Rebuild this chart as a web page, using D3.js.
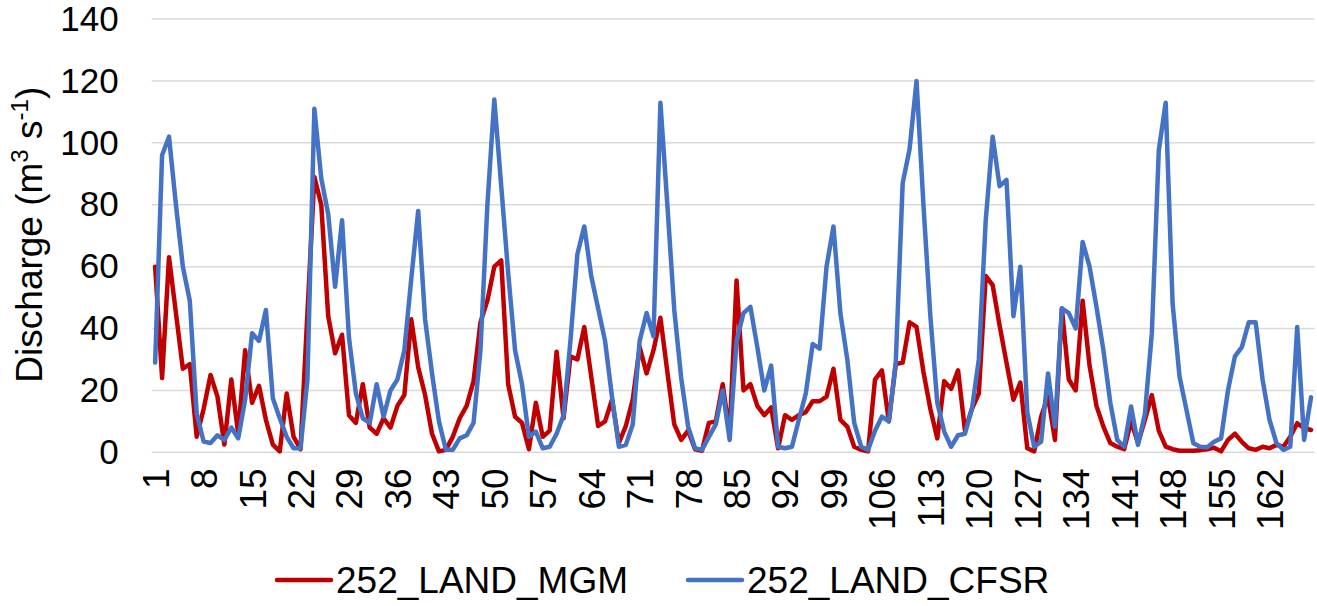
<!DOCTYPE html>
<html>
<head>
<meta charset="utf-8">
<script src="https://cdn.jsdelivr.net/npm/d3@7/dist/d3.min.js"></script>
<style>
  html, body { margin: 0; padding: 0; background: #fff; }
  svg { display: block; font-family: Arial, "Liberation Sans", sans-serif; }
</style>
</head>
<body>
<svg id="chart" width="1317" height="606"></svg>
<script>
// ---- Data ----
const categories = d3.range(1, 169); // 1..168
const seriesNames = ["252_LAND_MGM", "252_LAND_CFSR"];
const mgm = [
  60, 24, 63, 45, 27, 28.5, 5, 14, 25, 18,
  2.5, 23.5, 6, 33, 16, 21.5, 10.5, 2.5, 0.3, 19,
  5, 1, 45, 89, 80, 44, 32, 38, 12, 9.5,
  22, 8, 6, 11, 8, 15, 18.5, 43, 27.5, 18.5,
  6, 0.3, 0.8, 5, 11, 15, 23, 42, 49, 60,
  62, 22, 11.5, 9.5, 1, 16, 5, 7, 32.5, 11,
  31, 30, 40.5, 24.5, 8.5, 10, 17, 3, 8.5, 17,
  34, 25.5, 33, 43.5, 26, 9, 4, 7, 1, 0.5,
  9.5, 10, 22, 6, 55.5, 20, 22, 15, 12, 14.5,
  1.3, 12, 10.5, 12, 13, 16.5, 16.5, 18, 27, 10.5,
  8.3, 1.8, 0.8, 0.3, 23.5, 26.5, 10, 28.5, 29, 42,
  40.5, 26, 14, 4.5, 23, 20.5, 26.5, 7, 14, 19,
  57, 54, 41, 29, 17, 22.5, 1.3, 0.3, 11.5, 18,
  4, 46.5, 23.5, 20, 49, 28, 15, 8.3, 3, 1.8,
  1, 10, 3, 10.5, 18.5, 7, 1.8, 1, 0.5, 0.5,
  0.5, 0.7, 1, 1.5, 0.3, 4, 6, 3.4, 1.3, 0.8,
  1.8, 1.3, 2.4, 1.8, 5, 9.4, 7.8, 7.2
];
const cfsr = [
  29, 96, 102, 80, 60, 49, 12.5, 3.5, 3, 5.5,
  4, 8, 4.5, 17, 38.5, 36, 46, 17.5, 11, 5,
  1.3, 1.3, 23.5, 111, 88.5, 77, 53.5, 75, 37, 19,
  11, 9.5, 22, 11.5, 20, 23.5, 33, 56, 78, 43,
  25.5, 10, 0.8, 0.8, 4.5, 5.5, 9.5, 33, 80, 114,
  86, 58, 33, 22, 5, 6.7, 1.3, 1.8, 6, 12,
  36, 64, 73, 57, 46.5, 36, 18, 1.8, 2.4, 9,
  36, 45, 37.5, 113, 80, 46, 24, 8.3, 1.3, 0.8,
  5, 9, 20, 4, 36, 45, 47, 34, 20, 28,
  1.8, 1.3, 1.8, 10.5, 19, 35, 33.5, 60, 73, 45,
  30, 9.5, 1.8, 0.8, 7, 11.5, 10, 29, 87, 98,
  120, 80, 44, 16, 6.7, 1.8, 5.5, 6, 14, 30,
  75, 102, 86, 88, 44, 60, 13, 1.8, 3.4, 25.5,
  8.3, 46.5, 45, 40, 68, 60, 47, 33, 16, 4,
  1.8, 14.8, 2.4, 12.5, 38.5, 97.5, 113, 48, 24.5, 13.7,
  2.9, 1.8, 1.6, 3.4, 4.5, 20, 31, 34, 42, 42,
  23.5, 10.5, 3, 0.8, 1.8, 40.5, 4, 17.8
];
const yTicks = [0, 20, 40, 60, 80, 100, 120, 140];
const xTickLabels = categories.filter(c => (c - 1) % 7 === 0);

// ---- Layout ----
const plot = { left: 151.7, right: 1314.5, top: 19.1, bottom: 452.3 };
const colors = ["#C00000", "#4472C4"];
const yFont = 35, xFont = 37, titleFont = 37, legendFont = 37;

const svg = d3.select("#chart");

const x = d3.scalePoint().domain(categories).range([plot.left, plot.right]).padding(0.5);
const y = d3.scaleLinear().domain([0, 140]).range([plot.bottom, plot.top]);

// gridlines
svg.append("g")
  .selectAll("line")
  .data(yTicks)
  .join("line")
  .attr("x1", plot.left).attr("x2", plot.right)
  .attr("y1", d => y(d)).attr("y2", d => y(d))
  .attr("stroke", "#D9D9D9").attr("stroke-width", 1.5);

// y axis labels
const yAxis = d3.axisLeft(y).tickValues(yTicks).tickSize(0).tickPadding(0);
const gy = svg.append("g").attr("transform", `translate(${plot.left - 33},0)`).call(yAxis);
gy.select(".domain").remove();
gy.selectAll("text").attr("font-size", yFont).attr("fill", "#000")
  .attr("font-family", "Arial, 'Liberation Sans', sans-serif");

// x axis labels
const xAxis = d3.axisBottom(x).tickValues(xTickLabels).tickSize(0).tickPadding(0);
const gx = svg.append("g").attr("transform", `translate(0,${plot.bottom})`).call(xAxis);
gx.select(".domain").remove();
gx.selectAll("text")
  .attr("font-size", xFont).attr("fill", "#000")
  .attr("font-family", "Arial, 'Liberation Sans', sans-serif")
  .attr("transform", "rotate(-90)")
  .attr("text-anchor", "end")
  .attr("x", -16).attr("y", 0).attr("dy", "0.35em");

// lines
const line = d3.line().x((d, i) => x(categories[i])).y(d => y(d));
[mgm, cfsr].forEach((s, k) => {
  svg.append("path")
    .datum(s)
    .attr("d", line)
    .attr("fill", "none")
    .attr("stroke", colors[k])
    .attr("stroke-width", 4.5)
    .attr("stroke-linejoin", "round")
    .attr("stroke-linecap", "round");
});

// y title
const yt = svg.append("text")
  .attr("transform", `translate(42,${(plot.top + plot.bottom) / 2 - 1}) rotate(-90)`)
  .attr("text-anchor", "middle")
  .attr("font-size", titleFont)
  .attr("fill", "#000");
yt.append("tspan").text("Discharge (m");
yt.append("tspan").text("3").attr("font-size", titleFont * 0.65).attr("dy", -14);
yt.append("tspan").text(" s").attr("dy", 14);
yt.append("tspan").text("-1").attr("font-size", titleFont * 0.65).attr("dy", -14);
yt.append("tspan").text(")").attr("dy", 14);

// legend
const legendItems = [
  { name: seriesNames[0], color: colors[0], x: 277 },
  { name: seriesNames[1], color: colors[1], x: 688 }
];
const lg = svg.append("g");
legendItems.forEach(it => {
  lg.append("line")
    .attr("x1", it.x).attr("x2", it.x + 54)
    .attr("y1", 580).attr("y2", 580)
    .attr("stroke", it.color).attr("stroke-width", 4.5).attr("stroke-linecap", "round");
  lg.append("text")
    .attr("x", it.x + 59).attr("y", 580).attr("dy", "0.35em")
    .attr("font-size", legendFont).attr("fill", "#000")
    .text(it.name);
});
</script>
</body>
</html>
